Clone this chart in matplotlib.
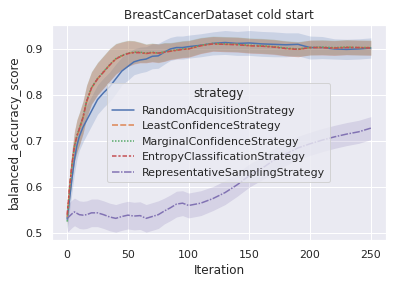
import matplotlib
matplotlib.use("Agg")
import matplotlib.pyplot as plt
import seaborn as sns
import numpy as np

sns.set_theme(style="darkgrid", context="notebook")

iterations = [0, 2, 4, 6, 8, 10, 13, 16, 20, 25, 30, 35, 40, 45, 50, 55, 60, 65, 70, 75,
              80, 85, 90, 95, 100, 110, 120, 130, 140, 150, 160, 170, 180, 190, 200,
              210, 220, 230, 240, 250]

random_mean = [0.53, 0.575, 0.62, 0.66, 0.69, 0.71, 0.73, 0.745, 0.765, 0.79, 0.805, 0.818,
               0.835, 0.852, 0.862, 0.872, 0.876, 0.878, 0.884, 0.885, 0.893, 0.9, 0.903,
               0.903, 0.905, 0.908, 0.912, 0.914, 0.912, 0.913, 0.911, 0.91, 0.909, 0.91,
               0.903, 0.903, 0.9, 0.899, 0.9, 0.902]
random_ci = [0.02, 0.025, 0.03, 0.03, 0.03, 0.03, 0.032, 0.032, 0.032, 0.032, 0.032, 0.032,
             0.032, 0.03, 0.03, 0.028, 0.028, 0.027, 0.027, 0.027, 0.026, 0.025, 0.025,
             0.025, 0.025, 0.025, 0.025, 0.026, 0.026, 0.027, 0.027, 0.027, 0.026, 0.025,
             0.025, 0.024, 0.022, 0.022, 0.022, 0.022]

least_mean = [0.535, 0.6, 0.65, 0.69, 0.71, 0.725, 0.75, 0.785, 0.815, 0.835, 0.85, 0.865,
              0.878, 0.885, 0.89, 0.893, 0.892, 0.89, 0.892, 0.89, 0.893, 0.895, 0.897,
              0.899, 0.9, 0.907, 0.911, 0.91, 0.91, 0.907, 0.906, 0.905, 0.901, 0.899,
              0.903, 0.903, 0.902, 0.904, 0.903, 0.903]
marginal_mean = [0.525, 0.598, 0.648, 0.688, 0.712, 0.727, 0.752, 0.787, 0.816, 0.836,
                 0.851, 0.866, 0.879, 0.886, 0.891, 0.893, 0.893, 0.891, 0.893, 0.891,
                 0.894, 0.896, 0.898, 0.9, 0.901, 0.908, 0.912, 0.911, 0.91, 0.908, 0.907,
                 0.905, 0.902, 0.9, 0.903, 0.904, 0.903, 0.904, 0.903, 0.903]
entropy_mean = [0.54, 0.602, 0.651, 0.689, 0.711, 0.726, 0.751, 0.786, 0.815, 0.835,
                0.85, 0.865, 0.878, 0.885, 0.89, 0.892, 0.892, 0.89, 0.892, 0.891,
                0.893, 0.895, 0.897, 0.899, 0.9, 0.907, 0.911, 0.91, 0.909, 0.907, 0.906,
                0.904, 0.901, 0.899, 0.903, 0.903, 0.902, 0.903, 0.903, 0.902]
uncert_ci = [0.02, 0.025, 0.03, 0.032, 0.035, 0.035, 0.035, 0.035, 0.035, 0.035, 0.035,
             0.035, 0.033, 0.03, 0.028, 0.025, 0.022, 0.02, 0.02, 0.02, 0.02, 0.018,
             0.018, 0.018, 0.018, 0.017, 0.016, 0.016, 0.016, 0.016, 0.016, 0.016,
             0.016, 0.016, 0.016, 0.016, 0.016, 0.016, 0.016, 0.016]

repr_mean = [0.532, 0.537, 0.542, 0.546, 0.543, 0.54, 0.539, 0.54, 0.544, 0.544, 0.54,
             0.535, 0.532, 0.536, 0.539, 0.537, 0.538, 0.532, 0.536, 0.54, 0.548, 0.555,
             0.563, 0.565, 0.56, 0.565, 0.575, 0.588, 0.605, 0.625, 0.64, 0.658, 0.672,
             0.685, 0.694, 0.702, 0.709, 0.715, 0.72, 0.728]
repr_ci = [0.03, 0.03, 0.03, 0.03, 0.03, 0.03, 0.03, 0.03, 0.03, 0.03, 0.03, 0.03, 0.03,
           0.03, 0.03, 0.03, 0.03, 0.03, 0.03, 0.03, 0.028, 0.028, 0.028, 0.027, 0.027,
           0.027, 0.026, 0.026, 0.025, 0.025, 0.025, 0.025, 0.025, 0.025, 0.025, 0.025,
           0.025, 0.025, 0.025, 0.025]

strategies = ["RandomAcquisitionStrategy", "LeastConfidenceStrategy",
              "MarginalConfidenceStrategy", "EntropyClassificationStrategy",
              "RepresentativeSamplingStrategy"]
means = [random_mean, least_mean, marginal_mean, entropy_mean, repr_mean]
cis = [random_ci, uncert_ci, uncert_ci, uncert_ci, repr_ci]
dashes = ["", (4, 1.5), (1, 1), (3, 1.25, 1.5, 1.25), (5, 1, 1, 1)]
colors = sns.color_palette("deep")

fig = plt.figure(figsize=(393 / 72, 284 / 72), dpi=72)
ax = fig.add_axes([52 / 393, 1 - 240 / 284, 334 / 393, 215 / 284])

x = np.array(iterations)
for name, m, c, d, col in zip(strategies, means, cis, dashes, colors):
    m = np.array(m)
    c = np.array(c)
    ax.fill_between(x, m - c, m + c, color=col, alpha=0.2, linewidth=0)
    line, = ax.plot(x, m, color=col, label=name, linewidth=1.5)
    if d:
        line.set_dashes(d)

ax.set_xlim(-12.5, 262.5)
ax.set_ylim(0.485, 0.952)
ax.set_xticks([0, 50, 100, 150, 200, 250])
ax.set_yticks([0.5, 0.6, 0.7, 0.8, 0.9])
ax.set_xlabel("Iteration")
ax.set_ylabel("balanced_accuracy_score")
ax.set_title("BreastCancerDataset cold start")
ax.legend(title="strategy", loc="center", bbox_to_anchor=(0.4985, 0.501))

fig.savefig("out.png", dpi=72)
